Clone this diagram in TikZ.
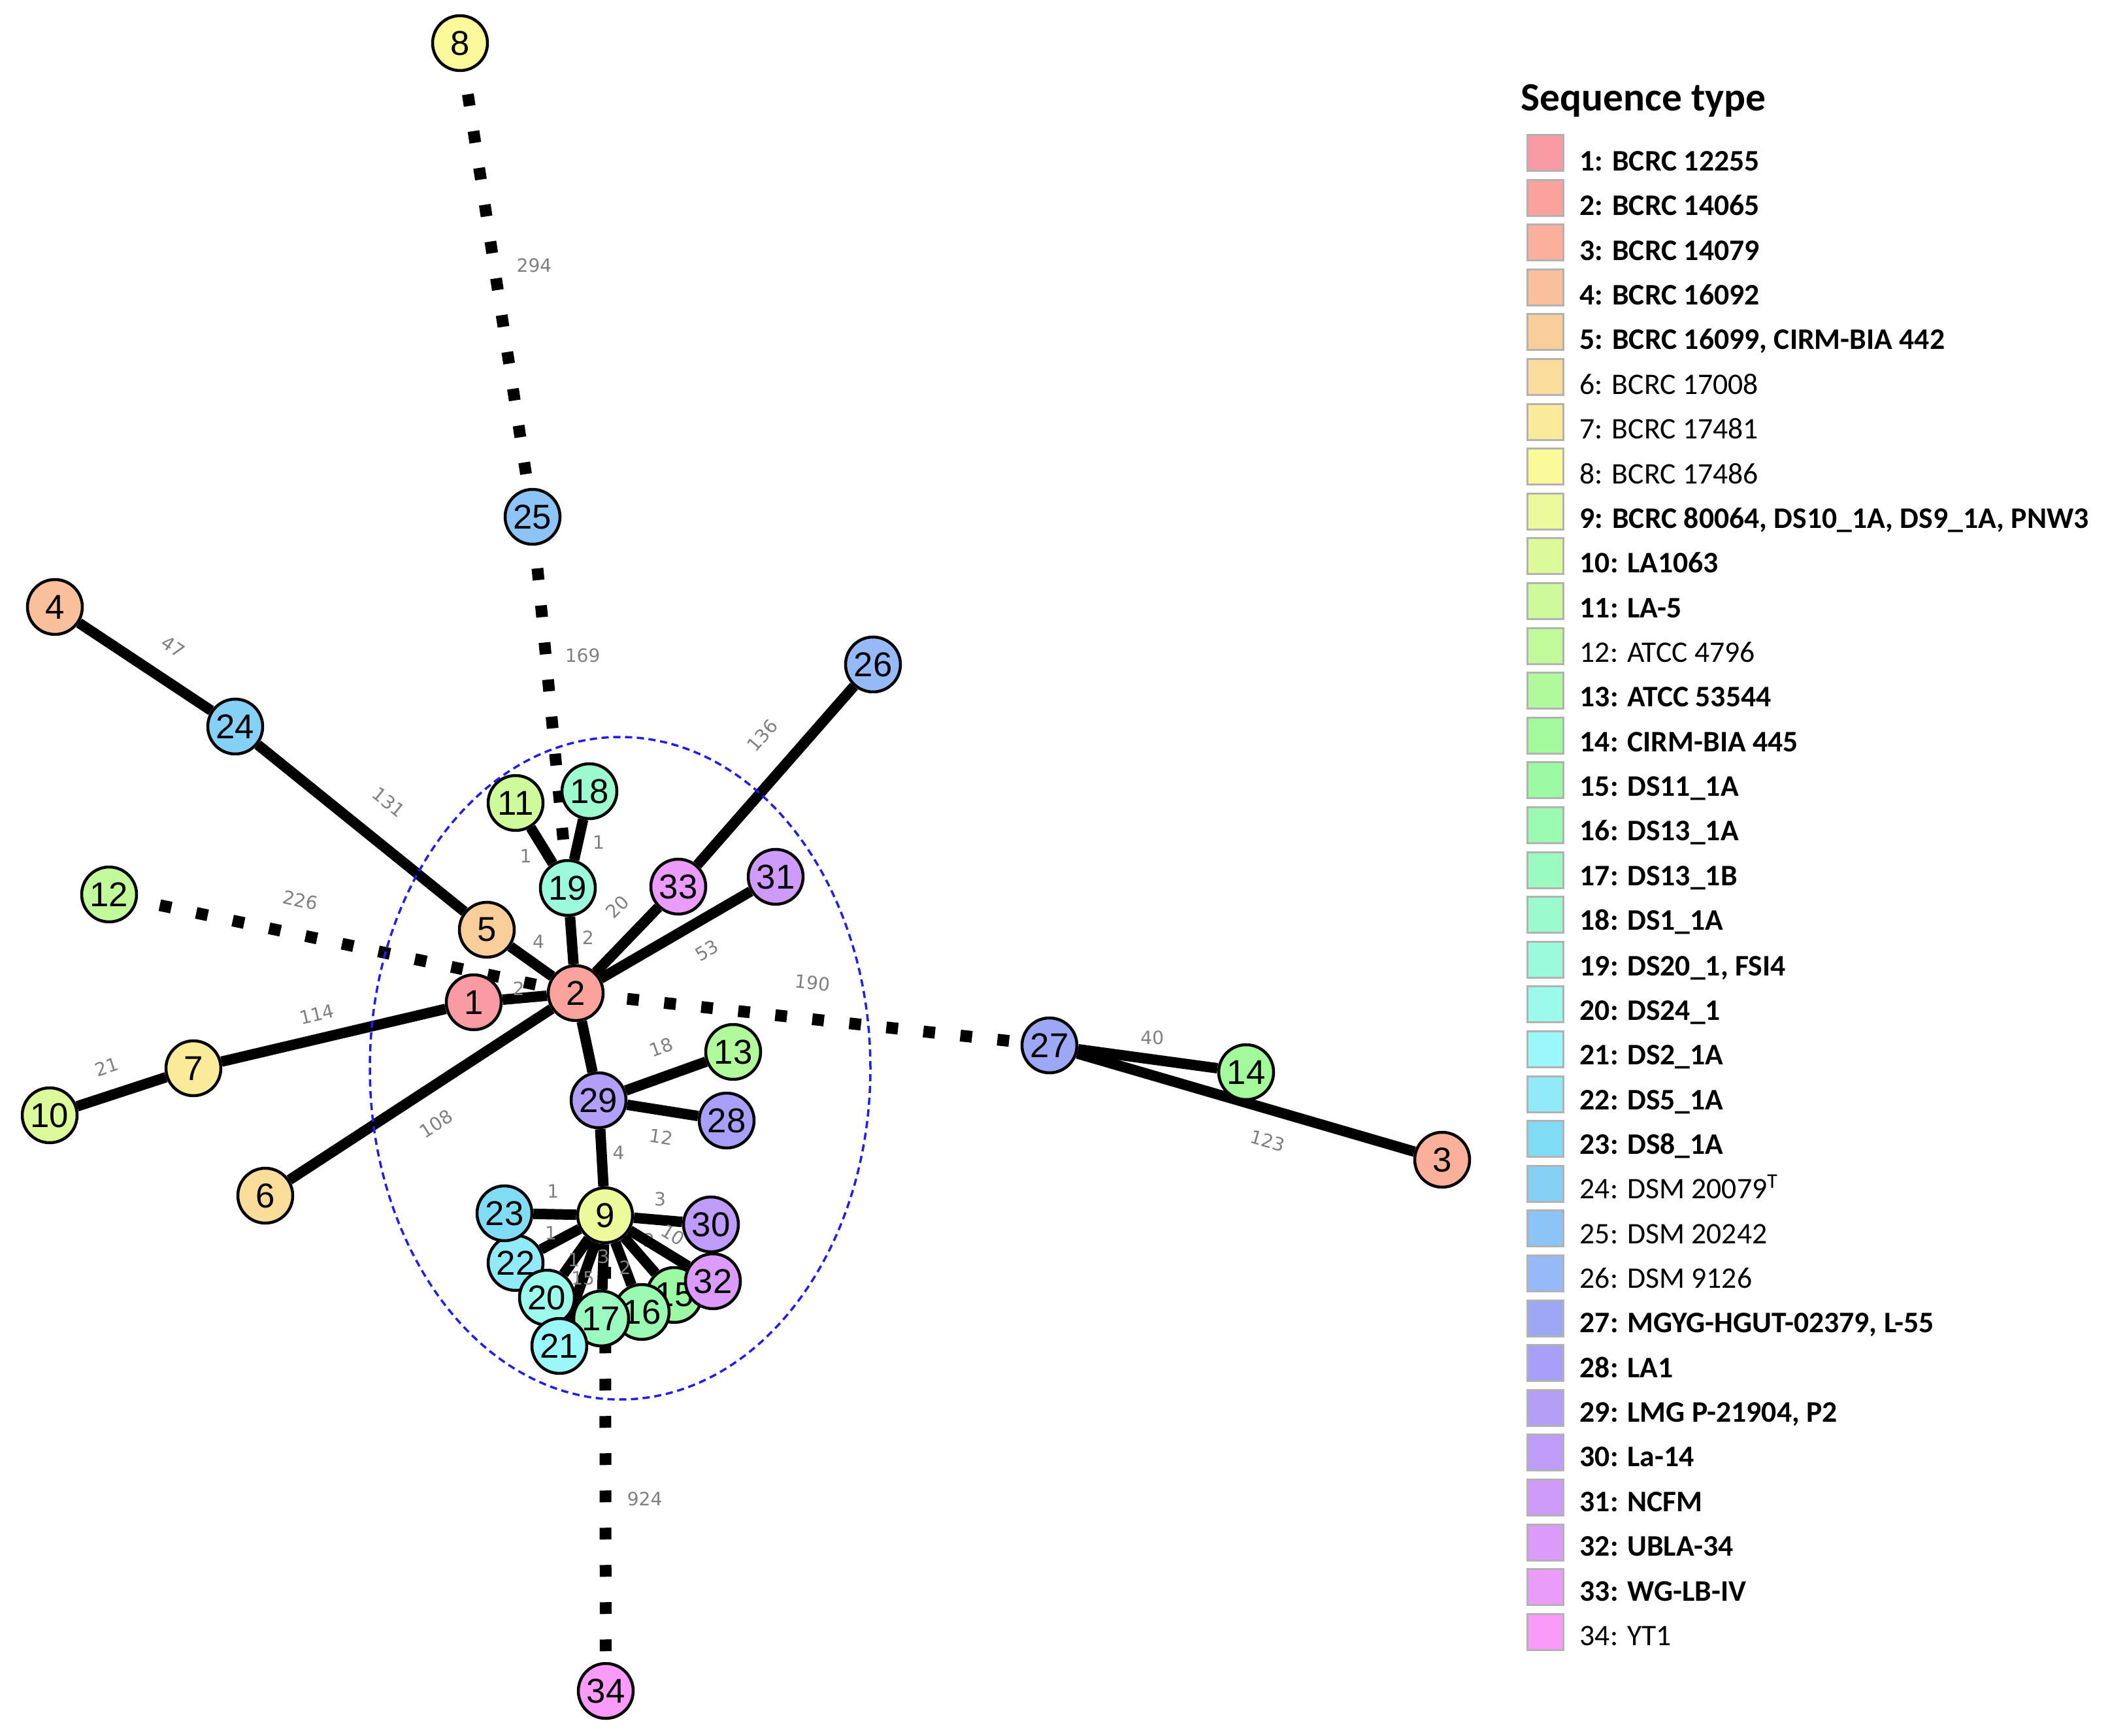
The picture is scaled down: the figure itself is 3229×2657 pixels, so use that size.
\documentclass[tikz,border=0pt]{standalone}
\usepackage{fontspec}
\newfontfamily\numfont{Liberation Sans}
\newfontfamily\labfont{DejaVu Sans}
\newfontfamily\legfont{Carlito}
\usetikzlibrary{shapes.geometric, positioning, backgrounds}

\definecolor{st1}{HTML}{FA9BA3}
\definecolor{st2}{HTML}{FAA29B}
\definecolor{st3}{HTML}{FAB09B}
\definecolor{st4}{HTML}{FABF9B}
\definecolor{st5}{HTML}{FACE9B}
\definecolor{st6}{HTML}{FADC9B}
\definecolor{st7}{HTML}{FAEB9B}
\definecolor{st8}{HTML}{FAFA9B}
\definecolor{st9}{HTML}{ECFA9B}
\definecolor{st10}{HTML}{DDFA9B}
\definecolor{st11}{HTML}{CFFA9B}
\definecolor{st12}{HTML}{C0FA9B}
\definecolor{st13}{HTML}{B1FA9B}
\definecolor{st14}{HTML}{A3FA9B}
\definecolor{st15}{HTML}{9BFAA2}
\definecolor{st16}{HTML}{9BFAB1}
\definecolor{st17}{HTML}{9BFABF}
\definecolor{st18}{HTML}{9BFACE}
\definecolor{st19}{HTML}{9BFADC}
\definecolor{st20}{HTML}{9BFAEB}
\definecolor{st21}{HTML}{9BF8FA}
\definecolor{st22}{HTML}{90EAF8}
\definecolor{st23}{HTML}{80DCF5}
\definecolor{st24}{HTML}{85D0F5}
\definecolor{st25}{HTML}{8CC4F8}
\definecolor{st26}{HTML}{96BAF8}
\definecolor{st27}{HTML}{9CA8F5}
\definecolor{st28}{HTML}{A89FF8}
\definecolor{st29}{HTML}{B49FF8}
\definecolor{st30}{HTML}{BF9BFA}
\definecolor{st31}{HTML}{CE9BFA}
\definecolor{st32}{HTML}{DC9BFA}
\definecolor{st33}{HTML}{EB9BFA}
\definecolor{st34}{HTML}{FA9BFA}
\definecolor{grpblue}{HTML}{1E1EF0}

\tikzset{stnode/.style={circle, draw, line width=0.45mm, minimum size=8.4mm, inner sep=0pt, font=\numfont\fontsize{15}{15}\selectfont}}

\begin{document}
\begin{tikzpicture}[x=0.1mm, y=-0.1mm,
    link/.style={line width=1.6mm},
    farlink/.style={line width=1.8mm, dash pattern=on 1.8mm off 3.9mm, dash phase=2.2mm},
    elab/.style={font=\labfont\fontsize{8}{8}\selectfont, text=gray, inner sep=0pt},
    legbox/.style={draw=gray!60, line width=0.3mm, minimum size=5.5mm, inner sep=0pt},
    legtxt/.style={anchor=base west, font=\legfont\fontsize{13}{13}\selectfont, inner sep=0pt}]

    \useasboundingbox (0,0) rectangle (3229,2657);

    % sequence types
    \node[stnode, fill=st8] (n8) at (704,66) {8};
    \node[stnode, fill=st25] (n25) at (815,791) {25};
    \node[stnode, fill=st4] (n4) at (84,929) {4};
    \node[stnode, fill=st24] (n24) at (360,1112) {24};
    \node[stnode, fill=st26] (n26) at (1336,1017) {26};
    \node[stnode, fill=st11] (n11) at (789,1229) {11};
    \node[stnode, fill=st18] (n18) at (902,1211) {18};
    \node[stnode, fill=st19] (n19) at (869,1359) {19};
    \node[stnode, fill=st33] (n33) at (1038,1357) {33};
    \node[stnode, fill=st31] (n31) at (1187,1342) {31};
    \node[stnode, fill=st12] (n12) at (167,1369) {12};
    \node[stnode, fill=st5] (n5) at (745,1423) {5};
    \node[stnode, fill=st1] (n1) at (725,1534) {1};
    \node[stnode, fill=st2] (n2) at (881,1520) {2};
    \node[stnode, fill=st7] (n7) at (296,1635) {7};
    \node[stnode, fill=st10] (n10) at (76,1707) {10};
    \node[stnode, fill=st6] (n6) at (406,1830) {6};
    \node[stnode, fill=st27] (n27) at (1606,1600) {27};
    \node[stnode, fill=st14] (n14) at (1907,1641) {14};
    \node[stnode, fill=st3] (n3) at (2207,1775) {3};
    \node[stnode, fill=st13] (n13) at (1122,1610) {13};
    \node[stnode, fill=st28] (n28) at (1112,1715) {28};
    \node[stnode, fill=st29] (n29) at (916,1684) {29};
    \node[stnode, fill=st9] (n9) at (926,1860) {9};
    \node[stnode, fill=st15] (n15) at (1032,1982) {15};
    \node[stnode, fill=st16] (n16) at (982,2008) {16};
    \node[stnode, fill=st17] (n17) at (920,2018) {17};
    \node[stnode, fill=st22] (n22) at (789,1933) {22};
    \node[stnode, fill=st20] (n20) at (837,1986) {20};
    \node[stnode, fill=st21] (n21) at (856,2060) {21};
    \node[stnode, fill=st23] (n23) at (772,1857) {23};
    \node[stnode, fill=st30] (n30) at (1088,1874) {30};
    \node[stnode, fill=st32] (n32) at (1091,1961) {32};
    \node[stnode, fill=st34] (n34) at (927,2588) {34};

    % cluster
    \node[draw=grpblue, ellipse, line width=0.35mm, dash pattern=on 1.1mm off 0.7mm, minimum width=76.6mm, minimum height=101.4mm, inner sep=0pt] (grp) at (949,1635) {};

    \begin{scope}[on background layer]
    \draw[farlink] (n8) -- node[elab, pos=0.48, xshift=6mm, yshift=0.95mm] {294} (n25);
    \draw[farlink] (n25) -- node[elab, pos=0.36, xshift=5.6mm, yshift=0.5mm] {169} (n19);
    \draw[farlink] (n12) -- node[elab, pos=0.38, sloped, above=3.2mm] {226} (n2);
    \draw[farlink] (n2) -- node[elab, pos=0.49, sloped, above=3.6mm] {190} (n27);
    \draw[farlink] (n9) -- node[elab, pos=0.61, xshift=6mm] {924} (n34);

    \draw[link] (n4) -- node[elab, pos=0.58, sloped, above=3.1mm] {47} (n24);
    \draw[link] (n24) -- node[elab, pos=0.52, sloped, above=3.9mm] {131} (n5);
    \draw[link] (n5) -- node[elab, pos=0.39, xshift=1.8mm, yshift=2.5mm] {4} (n2);
    \draw[link] (n10) -- node[elab, pos=0.43, sloped, above=2.5mm] {21} (n7);
    \draw[link] (n7) -- node[elab, pos=0.45, sloped, above=1.9mm] {114} (n1);
    \draw[link] (n1) -- node[elab, pos=0.36, yshift=1.5mm] {2} (n2);
    \draw[link] (n6) -- node[elab, pos=0.49, sloped, below=3.2mm] {108} (n2);
    \draw[link] (n11) -- node[elab, pos=0.52, xshift=-2.5mm, yshift=-1.5mm] {1} (n19);
    \draw[link] (n18) -- node[elab, pos=0.46, xshift=3mm, yshift=-0.7mm] {1} (n19);
    \draw[link] (n19) -- node[elab, pos=0.46, xshift=2.5mm, yshift=0.2mm] {2} (n2);
    \draw[link] (n2) -- node[elab, pos=0.69, sloped, above=2.7mm] {20} (n33);
    \draw[link] (n33) -- node[elab, pos=0.59, sloped, above=3.7mm] {136} (n26);
    \draw[link] (n2) -- node[elab, pos=0.61, sloped, below=2.6mm] {53} (n31);
    \draw[link] (n27) -- node[elab, pos=0.52, xshift=0.25mm, yshift=3.3mm] {40} (n14);
    \draw[link] (n27) -- node[elab, pos=0.59, sloped, below=2.8mm] {123} (n3);
    \draw[link] (n2) -- (n29);
    \draw[link] (n29) -- node[elab, pos=0.56, sloped, above=2.5mm] {18} (n13);
    \draw[link] (n29) -- node[elab, pos=0.54, sloped, below=2.2mm] {12} (n28);
    \draw[link] (n29) -- node[elab, pos=0.41, xshift=2.6mm] {4} (n9);
    \draw[link] (n9) -- node[elab, pos=0.54, yshift=3.5mm] {1} (n23);
    \draw[link] (n9) -- node[elab, pos=0.50, xshift=0.3mm, yshift=3.2mm] {3} (n30);
    \draw[link] (n9) -- node[elab, pos=0.63, xshift=-0.7mm, yshift=1.3mm] {1} (n22);
    \draw[link] (n9) -- node[elab, pos=0.59] {1} (n20);
    \draw[link] (n9) -- node[elab, pos=0.47] {15} (n21);
    \draw[link] (n9) -- node[elab, pos=0.27] {3} (n17);
    \draw[link] (n9) -- node[elab, pos=0.60] {2} (n16);
    \draw[link] (n9) -- node[elab, pos=0.39, xshift=1.9mm, yshift=1.7mm] {2} (n15);
    \draw[link] (n9) -- node[elab, pos=0.57, sloped, above=1mm] {10} (n32);
    \end{scope}

    % legend
    \node[anchor=base west, font=\legfont\bfseries\fontsize{17.5}{17.5}\selectfont, inner sep=0pt] (ttl) at (2327,170) {Sequence type};
    \node[legbox, fill=st1] (b1) at (2365,234) {}; \node[legtxt] (t1) at (2417,262) {\bfseries 1: BCRC 12255};
    \node[legbox, fill=st2] (b2) at (2365,303) {}; \node[legtxt] (t2) at (2417,330) {\bfseries 2: BCRC 14065};
    \node[legbox, fill=st3] (b3) at (2365,371) {}; \node[legtxt] (t3) at (2417,399) {\bfseries 3: BCRC 14079};
    \node[legbox, fill=st4] (b4) at (2365,440) {}; \node[legtxt] (t4) at (2417,467) {\bfseries 4: BCRC 16092};
    \node[legbox, fill=st5] (b5) at (2365,508) {}; \node[legtxt] (t5) at (2417,535) {\bfseries 5: BCRC 16099, CIRM-BIA 442};
    \node[legbox, fill=st6] (b6) at (2365,577) {}; \node[legtxt] (t6) at (2417,604) {6: BCRC 17008};
    \node[legbox, fill=st7] (b7) at (2365,646) {}; \node[legtxt] (t7) at (2417,672) {7: BCRC 17481};
    \node[legbox, fill=st8] (b8) at (2365,714) {}; \node[legtxt] (t8) at (2417,741) {8: BCRC 17486};
    \node[legbox, fill=st9] (b9) at (2365,783) {}; \node[legtxt] (t9) at (2417,809) {\bfseries 9: BCRC 80064, DS10\_1A, DS9\_1A, PNW3};
    \node[legbox, fill=st10] (b10) at (2365,851) {}; \node[legtxt] (t10) at (2417,877) {\bfseries 10: LA1063};
    \node[legbox, fill=st11] (b11) at (2365,920) {}; \node[legtxt] (t11) at (2417,946) {\bfseries 11: LA-5};
    \node[legbox, fill=st12] (b12) at (2365,989) {}; \node[legtxt] (t12) at (2417,1014) {12: ATCC 4796};
    \node[legbox, fill=st13] (b13) at (2365,1057) {}; \node[legtxt] (t13) at (2417,1082) {\bfseries 13: ATCC 53544};
    \node[legbox, fill=st14] (b14) at (2365,1126) {}; \node[legtxt] (t14) at (2417,1151) {\bfseries 14: CIRM-BIA 445};
    \node[legbox, fill=st15] (b15) at (2365,1194) {}; \node[legtxt] (t15) at (2417,1219) {\bfseries 15: DS11\_1A};
    \node[legbox, fill=st16] (b16) at (2365,1263) {}; \node[legtxt] (t16) at (2417,1287) {\bfseries 16: DS13\_1A};
    \node[legbox, fill=st17] (b17) at (2365,1332) {}; \node[legtxt] (t17) at (2417,1356) {\bfseries 17: DS13\_1B};
    \node[legbox, fill=st18] (b18) at (2365,1400) {}; \node[legtxt] (t18) at (2417,1424) {\bfseries 18: DS1\_1A};
    \node[legbox, fill=st19] (b19) at (2365,1469) {}; \node[legtxt] (t19) at (2417,1493) {\bfseries 19: DS20\_1, FSI4};
    \node[legbox, fill=st20] (b20) at (2365,1537) {}; \node[legtxt] (t20) at (2417,1561) {\bfseries 20: DS24\_1};
    \node[legbox, fill=st21] (b21) at (2365,1606) {}; \node[legtxt] (t21) at (2417,1629) {\bfseries 21: DS2\_1A};
    \node[legbox, fill=st22] (b22) at (2365,1675) {}; \node[legtxt] (t22) at (2417,1698) {\bfseries 22: DS5\_1A};
    \node[legbox, fill=st23] (b23) at (2365,1743) {}; \node[legtxt] (t23) at (2417,1766) {\bfseries 23: DS8\_1A};
    \node[legbox, fill=st24] (b24) at (2365,1812) {}; \node[legtxt] (t24) at (2417,1834) {24: DSM 20079\textsuperscript{T}};
    \node[legbox, fill=st25] (b25) at (2365,1880) {}; \node[legtxt] (t25) at (2417,1903) {25: DSM 20242};
    \node[legbox, fill=st26] (b26) at (2365,1949) {}; \node[legtxt] (t26) at (2417,1971) {26: DSM 9126};
    \node[legbox, fill=st27] (b27) at (2365,2018) {}; \node[legtxt] (t27) at (2417,2039) {\bfseries 27: MGYG-HGUT-02379, L-55};
    \node[legbox, fill=st28] (b28) at (2365,2086) {}; \node[legtxt] (t28) at (2417,2108) {\bfseries 28: LA1};
    \node[legbox, fill=st29] (b29) at (2365,2155) {}; \node[legtxt] (t29) at (2417,2176) {\bfseries 29: LMG P-21904, P2};
    \node[legbox, fill=st30] (b30) at (2365,2223) {}; \node[legtxt] (t30) at (2417,2244) {\bfseries 30: La-14};
    \node[legbox, fill=st31] (b31) at (2365,2292) {}; \node[legtxt] (t31) at (2417,2313) {\bfseries 31: NCFM};
    \node[legbox, fill=st32] (b32) at (2365,2361) {}; \node[legtxt] (t32) at (2417,2381) {\bfseries 32: UBLA-34};
    \node[legbox, fill=st33] (b33) at (2365,2429) {}; \node[legtxt] (t33) at (2417,2450) {\bfseries 33: WG-LB-IV};
    \node[legbox, fill=st34] (b34) at (2365,2498) {}; \node[legtxt] (t34) at (2417,2518) {34: YT1};

\end{tikzpicture}
\end{document}
